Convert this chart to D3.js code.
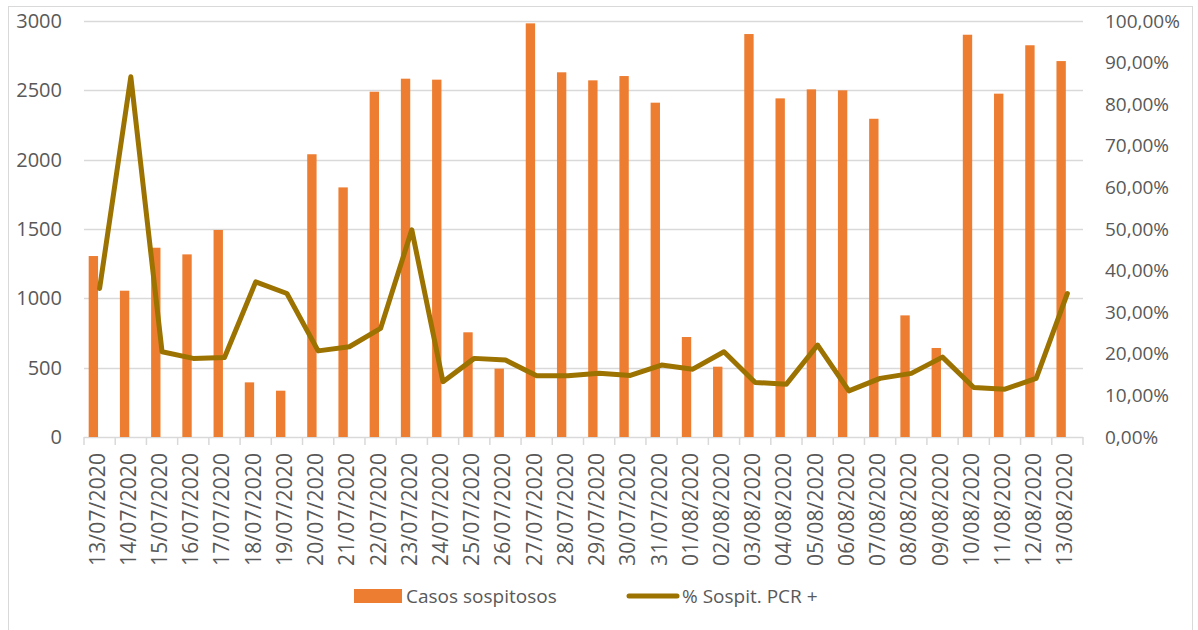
<!DOCTYPE html>
<html>
<head>
<meta charset="utf-8">
<script src="https://cdn.jsdelivr.net/npm/d3@7"></script>
<style>
  html, body { margin: 0; padding: 0; background: #fff; }
  svg { display: block; }
  text { font-family: "Open Sans", "Noto Sans", sans-serif; fill: #595959; }
</style>
</head>
<body>
<svg id="chart" width="1198" height="630"></svg>
<script>
const dates = ["13/07/2020","14/07/2020","15/07/2020","16/07/2020","17/07/2020","18/07/2020","19/07/2020","20/07/2020","21/07/2020","22/07/2020","23/07/2020","24/07/2020","25/07/2020","26/07/2020","27/07/2020","28/07/2020","29/07/2020","30/07/2020","31/07/2020","01/08/2020","02/08/2020","03/08/2020","04/08/2020","05/08/2020","06/08/2020","07/08/2020","08/08/2020","09/08/2020","10/08/2020","11/08/2020","12/08/2020","13/08/2020"];
const casos = [1305,1055,1365,1317,1493,394,334,2039,1800,2490,2584,2577,755,493,2983,2630,2572,2603,2411,721,507,2906,2442,2507,2500,2295,877,642,2901,2476,2825,2711];
const pctPCR = [35.7,86.6,20.5,18.9,19.1,37.3,34.5,20.7,21.7,26.1,49.8,13.3,18.9,18.5,14.7,14.7,15.3,14.8,17.3,16.3,20.5,13.1,12.7,22.1,11.1,14.1,15.3,19.2,11.9,11.5,14.1,34.5];
const leftTicks = [0,500,1000,1500,2000,2500,3000];
const rightTicks = [0,10,20,30,40,50,60,70,80,90,100];
const seriesNames = ["Casos sospitosos", "% Sospit. PCR +"];

const barColor = "#ED7D31";
const lineColor = "#9C7200";
const gridColor = "#D9D9D9";

const svg = d3.select("#chart");
const m = { left: 84, right: 1083, top: 21, bottom: 437 };

// chart border
svg.append("rect").attr("x", 8.5).attr("y", 6.5).attr("width", 1184).attr("height", 640)
  .attr("fill", "none").attr("stroke", gridColor).attr("stroke-width", 1);

const x = d3.scaleBand().domain(dates).range([m.left, m.right]).padding(0);
const yL = d3.scaleLinear().domain([0, 3000]).range([m.bottom, m.top]);
const yR = d3.scaleLinear().domain([0, 100]).range([m.bottom, m.top]);

// gridlines
svg.append("g").selectAll("line").data(leftTicks).join("line")
  .attr("x1", m.left).attr("x2", m.right)
  .attr("y1", d => Math.round(yL(d)) + 0.5).attr("y2", d => Math.round(yL(d)) + 0.5)
  .attr("stroke", gridColor).attr("stroke-width", 1.5);

// x tick marks
const bounds = dates.map(d => x(d)).concat([m.right]);
svg.append("g").selectAll("line").data(bounds).join("line")
  .attr("x1", d => d).attr("x2", d => d)
  .attr("y1", m.bottom).attr("y2", m.bottom + 8)
  .attr("stroke", gridColor).attr("stroke-width", 1.5);

// left axis labels
const axL = d3.axisLeft(yL).tickValues(leftTicks).tickSize(0).tickPadding(0).tickFormat(d3.format("d"));
const gL = svg.append("g").attr("transform", `translate(${62},0)`).call(axL);
gL.select(".domain").remove();
gL.selectAll("text").style("font-size", "20px").attr("fill", "#595959")
  .style("font-family", "'Open Sans', sans-serif");

// right axis labels
const pctFmt = d => d.toFixed(2).replace(".", ",") + "%";
const axR = d3.axisRight(yR).tickValues(rightTicks).tickSize(0).tickPadding(0).tickFormat(pctFmt);
const gR = svg.append("g").attr("transform", `translate(${1105},0)`).call(axR);
gR.select(".domain").remove();
gR.selectAll("text").style("font-size", "19px").attr("fill", "#595959")
  .style("font-family", "'Open Sans', sans-serif");

// bars
const bw = x.bandwidth();
svg.append("g").selectAll("rect").data(casos).join("rect")
  .attr("x", (d, i) => x(dates[i]) + bw * 0.15)
  .attr("width", bw * 0.30)
  .attr("y", d => yL(d))
  .attr("height", d => yL(0) - yL(d))
  .attr("fill", barColor);

// line
const line = d3.line()
  .x((d, i) => x(dates[i]) + bw / 2)
  .y(d => yR(d));
svg.append("path").datum(pctPCR)
  .attr("d", line)
  .attr("fill", "none").attr("stroke", lineColor)
  .attr("stroke-width", 5).attr("stroke-linejoin", "round").attr("stroke-linecap", "round");

// x labels
svg.append("g").selectAll("text").data(dates).join("text")
  .attr("transform", d => `translate(${x(d) + bw / 2},${453}) rotate(-90)`)
  .attr("text-anchor", "end")
  .attr("y", 5)
  .attr("textLength", 113)
  .attr("lengthAdjust", "spacing")
  .style("font-size", "21px")
  .text(d => d);

// legend
const lg = svg.append("g");
lg.append("rect").attr("x", 354).attr("y", 589).attr("width", 48).attr("height", 14).attr("fill", barColor);
lg.append("text").attr("x", 406).attr("y", 603).style("font-size", "19px").text(seriesNames[0]);
lg.append("line").attr("x1", 629).attr("x2", 677).attr("y1", 596).attr("y2", 596)
  .attr("stroke", lineColor).attr("stroke-width", 5).attr("stroke-linecap", "round");
lg.append("text").attr("x", 682).attr("y", 603).style("font-size", "19px").text(seriesNames[1]);
</script>
</body>
</html>
